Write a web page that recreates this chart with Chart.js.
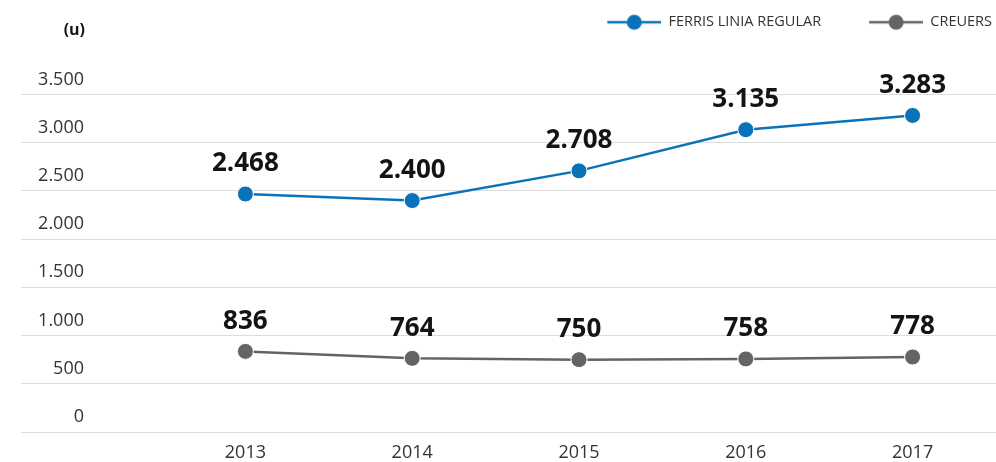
<!DOCTYPE html>
<html>
<head>
<meta charset="utf-8">
<script src="https://cdn.jsdelivr.net/npm/chart.js@4/dist/chart.umd.min.js"></script>
<style>
  html, body { margin: 0; padding: 0; background: #fff; }
  #wrap { width: 996px; height: 462px; }
</style>
</head>
<body>
<div id="wrap"><canvas id="c" width="996" height="462"></canvas></div>
<script>
// Chart data
const years = ['2013', '2014', '2015', '2016', '2017'];
const ferrisValues = [2468, 2400, 2708, 3135, 3283];
const creuersValues = [836, 764, 750, 758, 778];
const seriesNames = ['FERRIS LINIA REGULAR', 'CREUERS'];
const seriesColors = ['#0a72b9', '#646464'];
const yMin = 0, yMax = 3500, yStep = 500;
const unitLabel = '(u)';

const FONT = "'Open Sans', 'Noto Sans', sans-serif";

// Thousands separator with a dot: 3500 -> "3.500"
function fmt(n) {
  return String(n).replace(/\B(?=(\d{3})+(?!\d))/g, '.');
}

// Legend glyph: short line with a dot in the middle, drawn to the right of a blank lead-in
const ICON_W = 98, ICON_LINE = 54, ICON_H = 18;
function makeIcon(color) {
  const cv = document.createElement('canvas');
  cv.width = ICON_W; cv.height = ICON_H;
  const g = cv.getContext('2d');
  const x0 = ICON_W - ICON_LINE, cy = ICON_H / 2;
  g.strokeStyle = color; g.lineWidth = 2.5;
  g.beginPath(); g.moveTo(x0, cy); g.lineTo(ICON_W, cy); g.stroke();
  g.fillStyle = color;
  g.beginPath(); g.arc(x0 + ICON_LINE / 2, cy, 7.5, 0, Math.PI * 2); g.fill();
  return cv;
}
const icons = seriesColors.map(makeIcon);

// Bold value labels above every point
const valueLabels = {
  id: 'valueLabels',
  afterDatasetsDraw(chart) {
    const ctx = chart.ctx;
    ctx.save();
    ctx.font = "bold 26px " + FONT;
    ctx.fillStyle = '#141414';
    ctx.textAlign = 'center';
    ctx.textBaseline = 'middle';
    chart.data.datasets.forEach((ds, i) => {
      chart.getDatasetMeta(i).data.forEach((pt, j) => {
        ctx.fillText(fmt(ds.data[j]), pt.x, pt.y - 30);
      });
    });
    ctx.restore();
  }
};

// Unit caption above the value axis
const unitCaption = {
  id: 'unitCaption',
  afterDraw(chart) {
    const ctx = chart.ctx;
    ctx.save();
    ctx.font = "bold 16px " + FONT;
    ctx.fillStyle = '#141414';
    ctx.textAlign = 'right';
    ctx.textBaseline = 'middle';
    ctx.fillText(unitLabel, 85, 30);
    ctx.restore();
  }
};

// Leave room between the legend row and the plot
const legendGap = {
  id: 'legendGap',
  afterInit(chart) {
    const lg = chart.legend;
    if (!lg) return;
    const fit = lg.fit.bind(lg);
    lg.fit = function () { fit(); this.height += 55; };
  }
};

const dataset = (label, data, color) => ({
  label, data,
  borderColor: color,
  backgroundColor: color,
  borderWidth: 2.5,
  pointRadius: 8,
  pointHoverRadius: 8,
  pointBackgroundColor: color,
  pointBorderColor: '#ffffff',
  pointBorderWidth: 1,
  tension: 0,
  clip: false
});

new Chart(document.getElementById('c'), {
  type: 'line',
  data: {
    labels: years,
    datasets: [
      dataset(seriesNames[0], ferrisValues, seriesColors[0]),
      dataset(seriesNames[1], creuersValues, seriesColors[1])
    ]
  },
  options: {
    responsive: false,
    animation: false,
    events: [],
    layout: { autoPadding: false, padding: { top: 11, left: 21, right: 0, bottom: 0 } },
    plugins: {
      tooltip: { enabled: false },
      legend: {
        position: 'top',
        align: 'end',
        labels: {
          usePointStyle: true,
          pointStyleWidth: ICON_W,
          color: '#333',
          padding: 4,
          font: { family: FONT, size: 14.5 },
          generateLabels(chart) {
            const items = Chart.defaults.plugins.legend.labels.generateLabels(chart);
            items.forEach((it, i) => { it.pointStyle = icons[i]; });
            return items;
          }
        }
      }
    },
    scales: {
      x: {
        type: 'category',
        offset: true,
        afterFit(scale) { scale.height = 30; },
        grid: { display: false, drawTicks: false },
        border: { display: false },
        ticks: { color: '#333', padding: 10, font: { family: FONT, size: 18 } }
      },
      y: {
        min: yMin,
        max: yMax,
        afterFit(scale) { scale.width = 141; },
        grid: { color: '#dcdcdc', lineWidth: 1, tickLength: 141, tickColor: '#dcdcdc' },
        border: { display: false },
        ticks: {
          stepSize: yStep,
          color: '#333',
          padding: -63,
          labelOffset: -15,
          font: { family: FONT, size: 18 },
          callback: (v) => fmt(v)
        }
      }
    }
  },
  plugins: [valueLabels, unitCaption, legendGap]
});
</script>
</body>
</html>
